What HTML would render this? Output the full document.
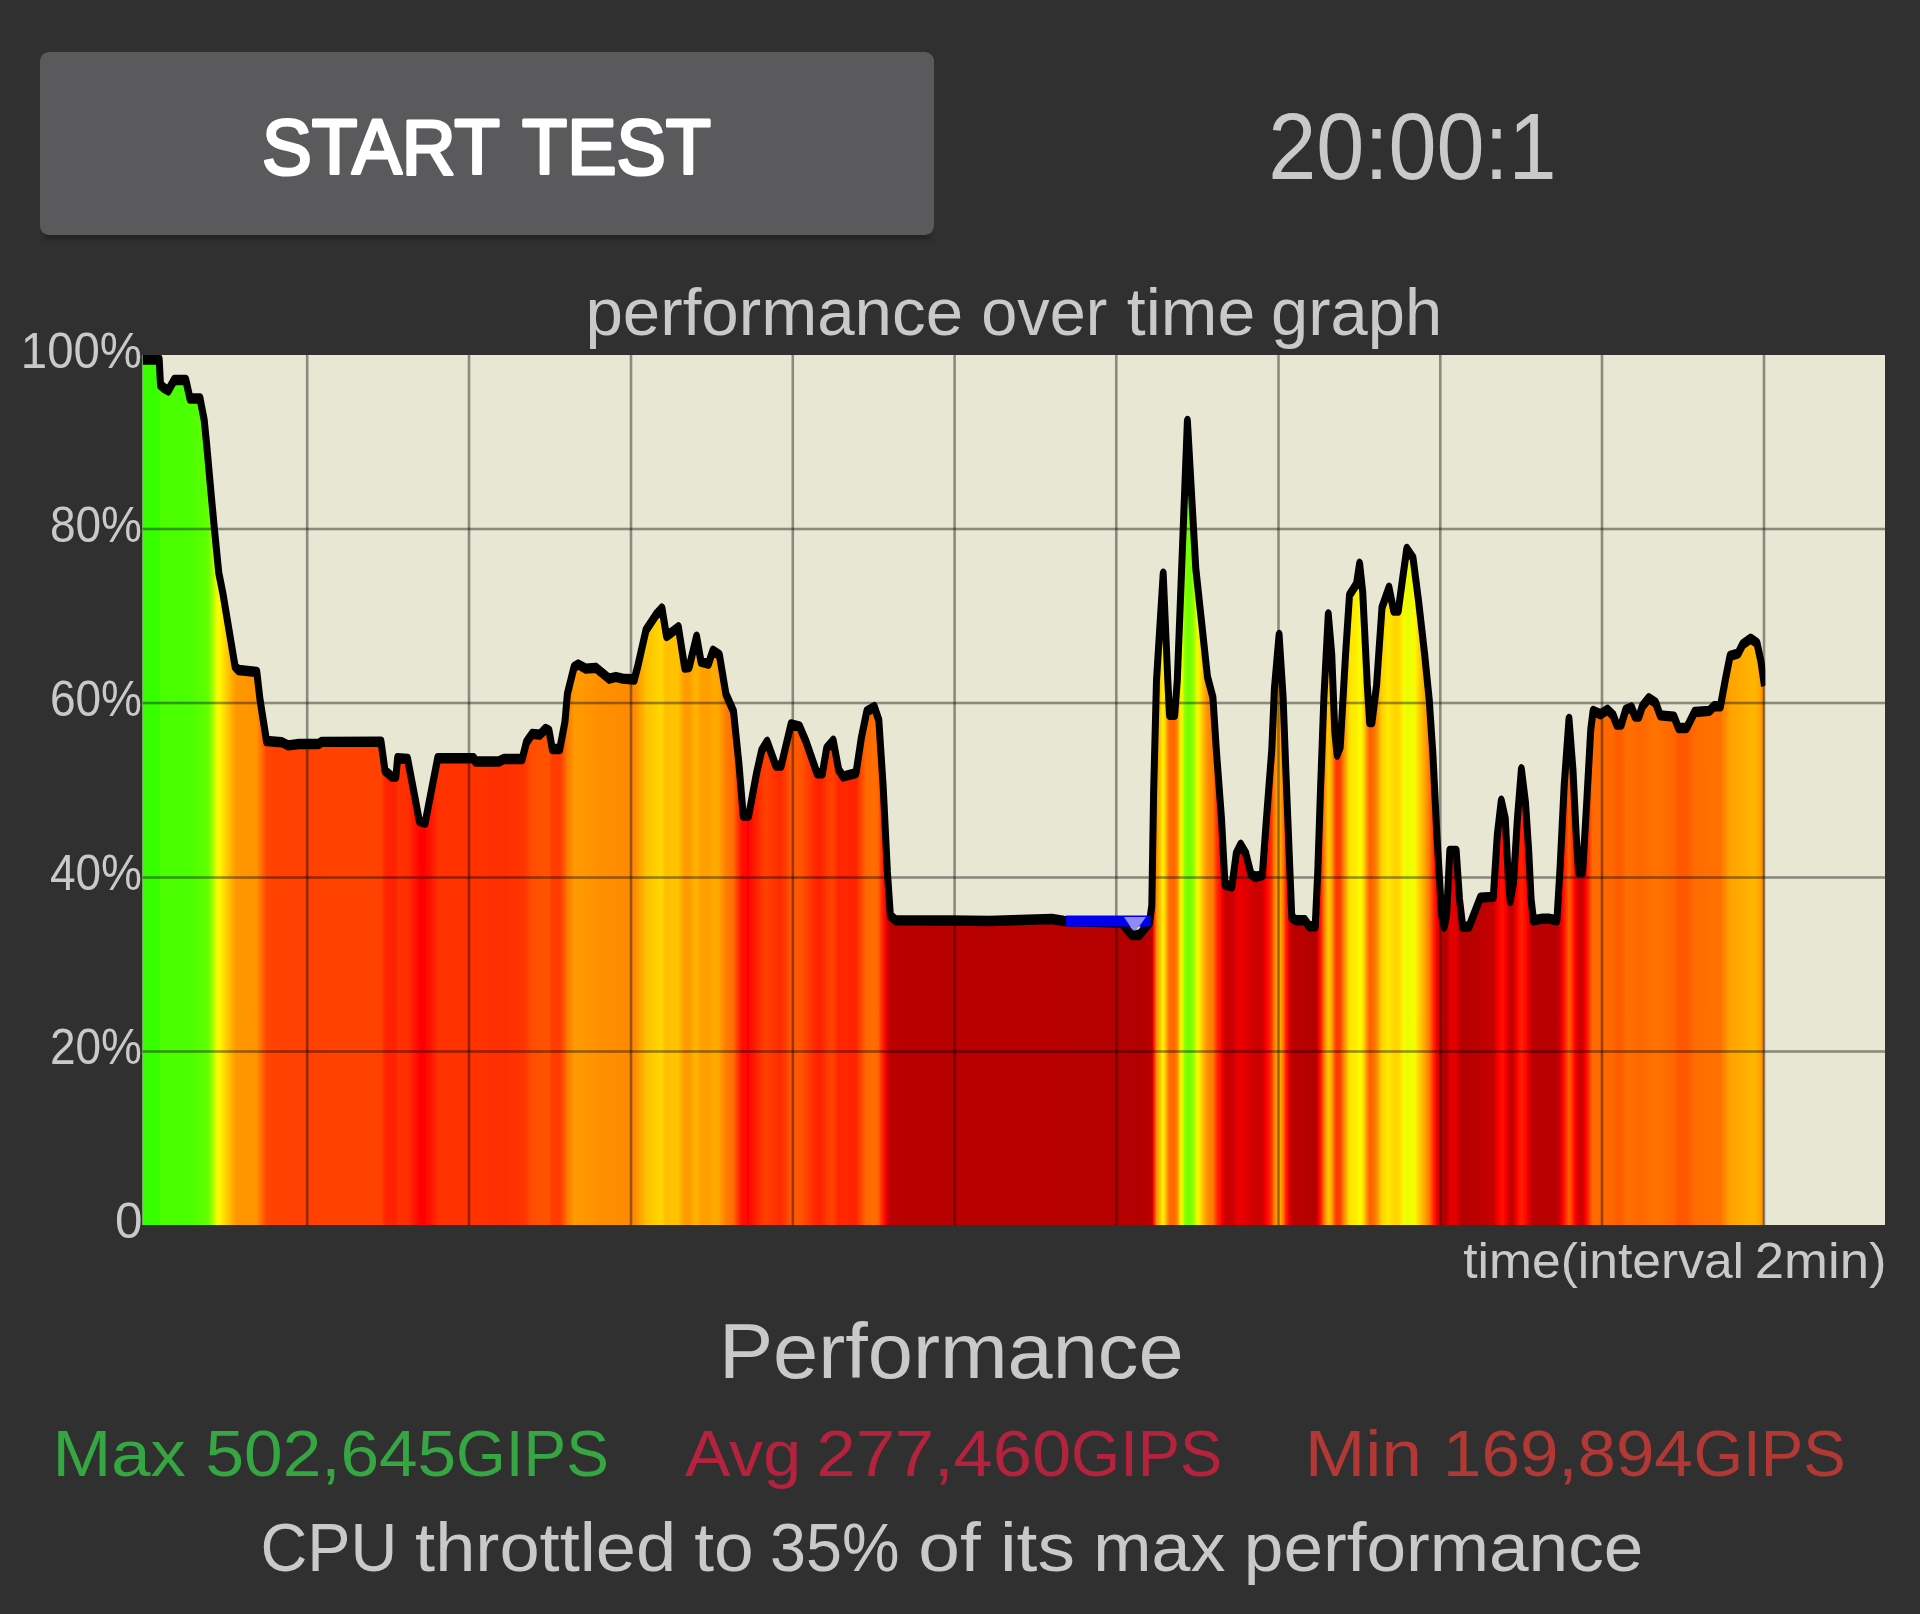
<!DOCTYPE html>
<html lang="en">
<head>
<meta charset="utf-8">
<title>CPU Throttling Test</title>
<style>
html,body{margin:0;padding:0;background:#303030;}
body{width:1920px;height:1614px;overflow:hidden;font-family:"Liberation Sans",sans-serif;}
svg{display:block;}
text{font-family:"Liberation Sans",sans-serif;}
</style>
</head>
<body>
<svg width="1920" height="1614" viewBox="0 0 1920 1614">
<defs>
<linearGradient id="g" gradientUnits="userSpaceOnUse" x1="142.5" y1="0" x2="1764" y2="0"><stop offset="0.0000" stop-color="#37ff00"/><stop offset="0.0102" stop-color="#37ff00"/><stop offset="0.0111" stop-color="#4cff00"/><stop offset="0.0268" stop-color="#49ff00"/><stop offset="0.0389" stop-color="#5cff00"/><stop offset="0.0407" stop-color="#6aff00"/><stop offset="0.0426" stop-color="#92ff00"/><stop offset="0.0453" stop-color="#dfff00"/><stop offset="0.0463" stop-color="#f4fe00"/><stop offset="0.0472" stop-color="#fff900"/><stop offset="0.0574" stop-color="#ff9900"/><stop offset="0.0703" stop-color="#ff9300"/><stop offset="0.0768" stop-color="#ff4400"/><stop offset="0.0962" stop-color="#ff4000"/><stop offset="0.1156" stop-color="#ff4300"/><stop offset="0.1351" stop-color="#ff4300"/><stop offset="0.1471" stop-color="#ff4300"/><stop offset="0.1499" stop-color="#ff2500"/><stop offset="0.1563" stop-color="#ff2100"/><stop offset="0.1573" stop-color="#ff3000"/><stop offset="0.1637" stop-color="#ff2f00"/><stop offset="0.1711" stop-color="#ff0200"/><stop offset="0.1758" stop-color="#ff0800"/><stop offset="0.1822" stop-color="#ff3100"/><stop offset="0.2017" stop-color="#ff3100"/><stop offset="0.2211" stop-color="#ff2f00"/><stop offset="0.2340" stop-color="#ff3100"/><stop offset="0.2405" stop-color="#ff4e00"/><stop offset="0.2507" stop-color="#ff5300"/><stop offset="0.2525" stop-color="#ff3b00"/><stop offset="0.2572" stop-color="#ff3a00"/><stop offset="0.2599" stop-color="#ff5800"/><stop offset="0.2618" stop-color="#ff7800"/><stop offset="0.2664" stop-color="#ff9a00"/><stop offset="0.2858" stop-color="#ff8e00"/><stop offset="0.3034" stop-color="#ff8b00"/><stop offset="0.3108" stop-color="#ffc200"/><stop offset="0.3201" stop-color="#ffd700"/><stop offset="0.3228" stop-color="#ffbe00"/><stop offset="0.3302" stop-color="#ffc400"/><stop offset="0.3340" stop-color="#ff9e00"/><stop offset="0.3367" stop-color="#ff9900"/><stop offset="0.3414" stop-color="#ffb700"/><stop offset="0.3451" stop-color="#ff9f00"/><stop offset="0.3497" stop-color="#ffa000"/><stop offset="0.3515" stop-color="#ffaa00"/><stop offset="0.3552" stop-color="#ffa700"/><stop offset="0.3599" stop-color="#ff7c00"/><stop offset="0.3645" stop-color="#ff6c00"/><stop offset="0.3673" stop-color="#ff3400"/><stop offset="0.3700" stop-color="#ff0a00"/><stop offset="0.3737" stop-color="#ff0500"/><stop offset="0.3821" stop-color="#ff3900"/><stop offset="0.3848" stop-color="#ff4100"/><stop offset="0.3932" stop-color="#ff2a00"/><stop offset="0.3969" stop-color="#ff3e00"/><stop offset="0.3996" stop-color="#ff5900"/><stop offset="0.4052" stop-color="#ff5900"/><stop offset="0.4163" stop-color="#ff2300"/><stop offset="0.4191" stop-color="#ff2300"/><stop offset="0.4218" stop-color="#ff3900"/><stop offset="0.4255" stop-color="#ff4300"/><stop offset="0.4292" stop-color="#ff2700"/><stop offset="0.4394" stop-color="#ff2300"/><stop offset="0.4403" stop-color="#ff2600"/><stop offset="0.4459" stop-color="#ff6600"/><stop offset="0.4514" stop-color="#ff7000"/><stop offset="0.4533" stop-color="#ff6800"/><stop offset="0.4542" stop-color="#ff5e00"/><stop offset="0.4551" stop-color="#ff3d00"/><stop offset="0.4579" stop-color="#ff0100"/><stop offset="0.4598" stop-color="#ca0000"/><stop offset="0.4616" stop-color="#ba0000"/><stop offset="0.4810" stop-color="#b80000"/><stop offset="0.5005" stop-color="#b80000"/><stop offset="0.5199" stop-color="#b80000"/><stop offset="0.5393" stop-color="#b80000"/><stop offset="0.5587" stop-color="#b90000"/><stop offset="0.5782" stop-color="#b70000"/><stop offset="0.5976" stop-color="#b70000"/><stop offset="0.6170" stop-color="#b20000"/><stop offset="0.6216" stop-color="#ba0000"/><stop offset="0.6226" stop-color="#c50000"/><stop offset="0.6235" stop-color="#ff0f00"/><stop offset="0.6244" stop-color="#ff4800"/><stop offset="0.6253" stop-color="#ff8a00"/><stop offset="0.6290" stop-color="#ffee00"/><stop offset="0.6300" stop-color="#ffe700"/><stop offset="0.6327" stop-color="#ff7c00"/><stop offset="0.6337" stop-color="#ff6900"/><stop offset="0.6364" stop-color="#ff6900"/><stop offset="0.6374" stop-color="#ff7900"/><stop offset="0.6383" stop-color="#ff9000"/><stop offset="0.6398" stop-color="#ffe100"/><stop offset="0.6411" stop-color="#ebff00"/><stop offset="0.6426" stop-color="#96ff00"/><stop offset="0.6442" stop-color="#73ff00"/><stop offset="0.6466" stop-color="#78ff00"/><stop offset="0.6485" stop-color="#a5ff00"/><stop offset="0.6503" stop-color="#ebff00"/><stop offset="0.6519" stop-color="#ffeb00"/><stop offset="0.6540" stop-color="#ffbe00"/><stop offset="0.6568" stop-color="#ff8d00"/><stop offset="0.6596" stop-color="#ff7c00"/><stop offset="0.6605" stop-color="#ff7100"/><stop offset="0.6623" stop-color="#ff3700"/><stop offset="0.6642" stop-color="#ff1300"/><stop offset="0.6651" stop-color="#ff0700"/><stop offset="0.6660" stop-color="#f20000"/><stop offset="0.6670" stop-color="#d70000"/><stop offset="0.6679" stop-color="#c80000"/><stop offset="0.6725" stop-color="#cb0000"/><stop offset="0.6744" stop-color="#e10000"/><stop offset="0.6772" stop-color="#eb0000"/><stop offset="0.6864" stop-color="#cc0000"/><stop offset="0.6901" stop-color="#ce0000"/><stop offset="0.6910" stop-color="#d70000"/><stop offset="0.6929" stop-color="#ff0000"/><stop offset="0.6947" stop-color="#ff1800"/><stop offset="0.6966" stop-color="#ff3f00"/><stop offset="0.6975" stop-color="#ff6e00"/><stop offset="0.6994" stop-color="#ff9c00"/><stop offset="0.7003" stop-color="#ffae00"/><stop offset="0.7012" stop-color="#ffb500"/><stop offset="0.7031" stop-color="#ff8200"/><stop offset="0.7040" stop-color="#ff6000"/><stop offset="0.7049" stop-color="#ff2e00"/><stop offset="0.7058" stop-color="#ff0f00"/><stop offset="0.7068" stop-color="#f40000"/><stop offset="0.7077" stop-color="#d00000"/><stop offset="0.7086" stop-color="#bd0000"/><stop offset="0.7225" stop-color="#b40000"/><stop offset="0.7234" stop-color="#b80000"/><stop offset="0.7243" stop-color="#c70000"/><stop offset="0.7253" stop-color="#e70000"/><stop offset="0.7262" stop-color="#ff0c00"/><stop offset="0.7271" stop-color="#ff2d00"/><stop offset="0.7280" stop-color="#ff6000"/><stop offset="0.7308" stop-color="#ffc100"/><stop offset="0.7317" stop-color="#ffc900"/><stop offset="0.7336" stop-color="#ff9f00"/><stop offset="0.7354" stop-color="#ff4f00"/><stop offset="0.7364" stop-color="#ff3a00"/><stop offset="0.7382" stop-color="#ff3a00"/><stop offset="0.7391" stop-color="#ff4f00"/><stop offset="0.7401" stop-color="#ff7000"/><stop offset="0.7438" stop-color="#ffd600"/><stop offset="0.7447" stop-color="#ffe500"/><stop offset="0.7484" stop-color="#ffee00"/><stop offset="0.7502" stop-color="#fbfb00"/><stop offset="0.7512" stop-color="#fefa00"/><stop offset="0.7521" stop-color="#ffed00"/><stop offset="0.7530" stop-color="#ffd800"/><stop offset="0.7558" stop-color="#ff7a00"/><stop offset="0.7567" stop-color="#ff6200"/><stop offset="0.7576" stop-color="#ff5f00"/><stop offset="0.7604" stop-color="#ff7c00"/><stop offset="0.7613" stop-color="#ff8b00"/><stop offset="0.7641" stop-color="#ffd100"/><stop offset="0.7687" stop-color="#ffeb00"/><stop offset="0.7715" stop-color="#ffd600"/><stop offset="0.7743" stop-color="#ffd500"/><stop offset="0.7780" stop-color="#fcfb00"/><stop offset="0.7798" stop-color="#e6ff00"/><stop offset="0.7835" stop-color="#f2fe00"/><stop offset="0.7845" stop-color="#fcfb00"/><stop offset="0.7909" stop-color="#ffa300"/><stop offset="0.7937" stop-color="#ff7400"/><stop offset="0.7965" stop-color="#ff2000"/><stop offset="0.7974" stop-color="#ff0a00"/><stop offset="0.7983" stop-color="#f30000"/><stop offset="0.8002" stop-color="#c70000"/><stop offset="0.8020" stop-color="#b70000"/><stop offset="0.8039" stop-color="#b90000"/><stop offset="0.8048" stop-color="#c30000"/><stop offset="0.8067" stop-color="#e50000"/><stop offset="0.8104" stop-color="#e10000"/><stop offset="0.8113" stop-color="#cc0000"/><stop offset="0.8141" stop-color="#b50000"/><stop offset="0.8326" stop-color="#c30000"/><stop offset="0.8335" stop-color="#c80000"/><stop offset="0.8353" stop-color="#f10000"/><stop offset="0.8363" stop-color="#ff0000"/><stop offset="0.8381" stop-color="#ff0d00"/><stop offset="0.8400" stop-color="#ff0600"/><stop offset="0.8409" stop-color="#f80000"/><stop offset="0.8418" stop-color="#db0000"/><stop offset="0.8427" stop-color="#c70000"/><stop offset="0.8437" stop-color="#c20000"/><stop offset="0.8455" stop-color="#ca0000"/><stop offset="0.8474" stop-color="#f70000"/><stop offset="0.8483" stop-color="#ff0800"/><stop offset="0.8501" stop-color="#ff2200"/><stop offset="0.8511" stop-color="#ff1f00"/><stop offset="0.8538" stop-color="#fe0000"/><stop offset="0.8557" stop-color="#cc0000"/><stop offset="0.8575" stop-color="#ba0000"/><stop offset="0.8723" stop-color="#b90000"/><stop offset="0.8742" stop-color="#d40000"/><stop offset="0.8751" stop-color="#f10000"/><stop offset="0.8760" stop-color="#ff0900"/><stop offset="0.8788" stop-color="#ff4600"/><stop offset="0.8797" stop-color="#ff6400"/><stop offset="0.8834" stop-color="#ff0800"/><stop offset="0.8844" stop-color="#f10000"/><stop offset="0.8853" stop-color="#da0000"/><stop offset="0.8862" stop-color="#d10000"/><stop offset="0.8881" stop-color="#d10000"/><stop offset="0.8899" stop-color="#ff0100"/><stop offset="0.8908" stop-color="#ff1000"/><stop offset="0.8936" stop-color="#ff5d00"/><stop offset="0.8945" stop-color="#ff6c00"/><stop offset="0.9075" stop-color="#ff6600"/><stop offset="0.9093" stop-color="#ff5c00"/><stop offset="0.9121" stop-color="#ff5d00"/><stop offset="0.9149" stop-color="#ff6e00"/><stop offset="0.9186" stop-color="#ff6f00"/><stop offset="0.9223" stop-color="#ff6700"/><stop offset="0.9334" stop-color="#ff7300"/><stop offset="0.9445" stop-color="#ff6700"/><stop offset="0.9473" stop-color="#ff5700"/><stop offset="0.9528" stop-color="#ff5900"/><stop offset="0.9574" stop-color="#ff6c00"/><stop offset="0.9732" stop-color="#ff7100"/><stop offset="0.9787" stop-color="#ffa200"/><stop offset="0.9935" stop-color="#ffb600"/><stop offset="0.9963" stop-color="#ffae00"/><stop offset="1.0000" stop-color="#ff8700"/></linearGradient>
<filter id="soft" x="0" y="0" width="1920" height="1614" filterUnits="userSpaceOnUse"><feGaussianBlur stdDeviation="0.75"/></filter>
<filter id="sh" x="0" y="200" width="1000" height="80" filterUnits="userSpaceOnUse"><feGaussianBlur stdDeviation="2.5"/></filter>
<clipPath id="lineclip"><rect x="142.5" y="355" width="1622.8" height="870"/></clipPath>
<clipPath id="plot"><rect x="142.5" y="355" width="1742.5" height="870"/></clipPath>
</defs>
<rect x="0" y="0" width="1920" height="1614" fill="#303030"/>
<g filter="url(#soft)">
<rect x="44" y="228" width="886" height="11" fill="#242424" filter="url(#sh)"/>
<rect x="40" y="52" width="894" height="183" rx="9" fill="#5a5a5c"/>
<g font-size="77" fill="#ffffff" stroke="#ffffff" stroke-width="3" stroke-linejoin="round">
<text x="262" y="173.5" textLength="238" lengthAdjust="spacingAndGlyphs">START</text>
<text x="522" y="173.5" textLength="189" lengthAdjust="spacingAndGlyphs">TEST</text>
</g>
<text x="1268.3" y="178.5" font-size="95" fill="#c9c9c9" textLength="288.3" lengthAdjust="spacingAndGlyphs">20:00:1</text>
<rect x="142.5" y="355" width="1742.5" height="870" fill="#e8e7d4"/>
<g clip-path="url(#plot)">
<polygon points="142.5,1225.0 142.5,359.5 159.2,359.5 160.5,385.0 164.0,388.0 168.3,390.5 174.2,380.0 185.8,380.0 190.0,398.5 200.0,398.5 204.2,420.0 206.7,445.0 211.2,495.0 214.5,530.0 218.8,573.0 223.0,594.0 229.0,630.0 235.1,666.5 238.4,670.0 256.8,672.0 260.0,699.5 266.5,741.0 281.7,742.2 288.2,745.4 299.0,744.0 318.6,744.0 321.8,741.8 381.0,741.6 385.0,770.7 391.7,776.6 395.9,776.6 397.6,758.2 407.6,759.0 413.5,790.0 419.3,820.9 425.2,822.6 431.5,790.0 437.7,758.2 473.7,758.2 475.4,761.5 498.8,761.5 503.8,759.0 522.2,759.0 526.4,742.3 532.2,733.9 539.8,734.7 545.6,728.9 549.0,730.6 552.3,749.0 559.8,749.0 564.9,722.2 567.4,693.8 574.1,667.0 578.2,664.5 585.8,668.7 595.8,667.8 609.2,678.7 615.9,677.0 622.6,678.7 634.3,679.5 637.6,667.0 646.0,630.2 656.0,615.0 662.0,608.5 666.5,636.0 671.5,632.5 678.4,627.3 684.7,667.5 689.2,667.0 696.6,636.6 701.0,661.6 708.5,663.7 712.9,650.7 719.4,655.0 725.9,694.0 733.5,711.4 738.9,763.5 743.2,815.5 748.7,815.5 756.3,774.3 761.7,750.5 767.1,741.8 775.8,765.6 781.2,765.6 791.0,724.4 799.6,726.6 806.1,741.8 817.0,773.2 822.4,773.2 826.7,748.3 833.2,740.7 838.7,770.0 843.0,776.5 856.0,773.2 861.4,737.5 866.8,711.4 874.4,707.1 878.8,720.1 883.1,785.2 887.4,871.9 890.4,916.0 895.6,920.2 950.0,920.5 989.4,921.0 1020.0,920.0 1051.9,919.0 1064.0,921.0 1122.2,922.5 1123.8,925.6 1131.6,935.0 1139.4,935.0 1149.5,922.8 1151.8,905.5 1153.6,792.7 1156.5,680.0 1163.2,573.7 1167.8,680.0 1169.5,714.7 1174.7,714.7 1177.3,680.0 1187.4,421.0 1195.8,568.6 1207.5,677.0 1212.9,697.3 1216.3,749.4 1221.5,818.8 1225.0,884.7 1231.9,886.4 1236.3,853.5 1240.6,844.8 1245.8,853.5 1251.0,874.3 1255.3,876.9 1262.3,875.1 1265.8,827.4 1271.8,749.4 1274.4,688.7 1279.1,635.0 1283.1,697.3 1285.7,766.7 1289.2,853.5 1291.8,917.6 1296.1,920.2 1304.8,920.2 1309.1,926.3 1315.2,926.3 1317.8,870.8 1320.4,792.7 1323.9,697.3 1328.3,614.5 1331.7,653.9 1334.8,731.4 1337.1,754.6 1340.2,746.9 1345.6,653.9 1349.5,595.0 1356.5,584.2 1359.6,563.7 1362.7,592.0 1367.3,684.9 1369.6,722.0 1372.0,722.0 1376.6,684.9 1382.0,607.5 1389.0,587.7 1393.6,610.5 1398.3,610.5 1402.9,576.5 1406.8,548.9 1413.0,557.9 1418.4,599.7 1424.6,653.9 1429.3,700.4 1432.9,754.4 1436.9,834.9 1441.7,915.5 1444.2,926.7 1446.6,915.5 1449.8,851.0 1456.2,851.0 1459.5,899.3 1462.7,926.7 1469.1,926.7 1480.4,897.7 1493.3,896.9 1497.3,834.9 1501.3,800.7 1505.3,818.8 1508.6,883.2 1510.2,901.0 1513.4,883.2 1517.4,818.8 1521.4,769.3 1525.5,802.7 1528.7,851.0 1531.1,899.3 1533.5,920.3 1542.4,918.7 1548.8,918.7 1556.9,920.3 1560.1,867.1 1564.1,786.6 1569.0,719.0 1573.0,770.5 1576.2,834.9 1578.6,872.0 1582.6,872.0 1586.7,802.7 1590.7,730.3 1593.1,710.9 1600.6,714.3 1607.5,709.7 1613.2,715.4 1616.7,724.6 1621.3,724.6 1625.8,709.7 1631.6,707.4 1635.0,716.6 1639.0,716.6 1642.4,706.3 1648.8,698.2 1655.6,702.8 1660.2,715.4 1674.0,716.6 1678.5,728.0 1686.6,728.0 1694.6,712.0 1709.5,710.8 1714.1,706.3 1720.4,706.3 1725.5,678.8 1730.1,655.8 1738.1,653.5 1742.7,644.4 1750.7,638.6 1757.0,643.2 1761.0,661.6 1764.5,686.0 1764.0,1225.0" fill="url(#g)"/>
<g fill="#000000" fill-opacity="0.4"><rect x="305.9" y="355" width="2.6" height="870"/><rect x="467.7" y="355" width="2.6" height="870"/><rect x="629.7" y="355" width="2.6" height="870"/><rect x="791.5" y="355" width="2.6" height="870"/><rect x="953.3" y="355" width="2.6" height="870"/><rect x="1115.0" y="355" width="2.6" height="870"/><rect x="1277.2" y="355" width="2.6" height="870"/><rect x="1439.0" y="355" width="2.6" height="870"/><rect x="1600.7" y="355" width="2.6" height="870"/><rect x="1762.7" y="355" width="2.6" height="870"/><rect x="142.5" y="527.7" width="1742.5" height="2.6"/><rect x="142.5" y="701.7" width="1742.5" height="2.6"/><rect x="142.5" y="876.2" width="1742.5" height="2.6"/><rect x="142.5" y="1050.2" width="1742.5" height="2.6"/></g>
<g clip-path="url(#lineclip)"><g transform="scale(1,1.48)"><polyline points="142.5,242.91 159.2,242.91 160.5,260.14 164.0,262.16 168.3,263.85 174.2,256.76 185.8,256.76 190.0,269.26 200.0,269.26 204.2,283.78 206.7,300.68 211.2,334.46 214.5,358.11 218.8,387.16 223.0,401.35 229.0,425.68 235.1,450.34 238.4,452.70 256.8,454.05 260.0,472.64 266.5,500.68 281.7,501.49 288.2,503.65 299.0,502.70 318.6,502.70 321.8,501.22 381.0,501.08 385.0,520.74 391.7,524.73 395.9,524.73 397.6,512.30 407.6,512.84 413.5,533.78 419.3,554.66 425.2,555.81 431.5,533.78 437.7,512.30 473.7,512.30 475.4,514.53 498.8,514.53 503.8,512.84 522.2,512.84 526.4,501.55 532.2,495.88 539.8,496.42 545.6,492.50 549.0,493.65 552.3,506.08 559.8,506.08 564.9,487.97 567.4,468.78 574.1,450.68 578.2,448.99 585.8,451.82 595.8,451.22 609.2,458.58 615.9,457.43 622.6,458.58 634.3,459.12 637.6,450.68 646.0,425.81 656.0,415.54 662.0,411.15 666.5,429.73 671.5,427.36 678.4,423.85 684.7,451.01 689.2,450.68 696.6,430.14 701.0,447.03 708.5,448.45 712.9,439.66 719.4,442.57 725.9,468.92 733.5,480.68 738.9,515.88 743.2,551.01 748.7,551.01 756.3,523.18 761.7,507.09 767.1,501.22 775.8,517.30 781.2,517.30 791.0,489.46 799.6,490.95 806.1,501.22 817.0,522.43 822.4,522.43 826.7,505.61 833.2,500.47 838.7,520.27 843.0,524.66 856.0,522.43 861.4,498.31 866.8,480.68 874.4,477.77 878.8,486.55 883.1,530.54 887.4,589.12 890.4,618.92 895.6,621.76 950.0,621.96 989.4,622.30 1020.0,621.62 1051.9,620.95 1064.0,622.30 1122.2,623.31 1123.8,625.41 1131.6,631.76 1139.4,631.76 1149.5,623.51 1151.8,611.82 1153.6,535.61 1156.5,459.46 1163.2,387.64 1167.8,459.46 1169.5,482.91 1174.7,482.91 1177.3,459.46 1187.4,284.46 1195.8,384.19 1207.5,457.43 1212.9,471.15 1216.3,506.35 1221.5,553.24 1225.0,597.77 1231.9,598.92 1236.3,576.69 1240.6,570.81 1245.8,576.69 1251.0,590.74 1255.3,592.50 1262.3,591.28 1265.8,559.05 1271.8,506.35 1274.4,465.34 1279.1,429.05 1283.1,471.15 1285.7,518.04 1289.2,576.69 1291.8,620.00 1296.1,621.76 1304.8,621.76 1309.1,625.88 1315.2,625.88 1317.8,588.38 1320.4,535.61 1323.9,471.15 1328.3,415.20 1331.7,441.82 1334.8,494.19 1337.1,509.86 1340.2,504.66 1345.6,441.82 1349.5,402.03 1356.5,394.73 1359.6,380.88 1362.7,400.00 1367.3,462.77 1369.6,487.84 1372.0,487.84 1376.6,462.77 1382.0,410.47 1389.0,397.09 1393.6,412.50 1398.3,412.50 1402.9,389.53 1406.8,370.88 1413.0,376.96 1418.4,405.20 1424.6,441.82 1429.3,473.24 1432.9,509.73 1436.9,564.12 1441.7,618.58 1444.2,626.15 1446.6,618.58 1449.8,575.00 1456.2,575.00 1459.5,607.64 1462.7,626.15 1469.1,626.15 1480.4,606.55 1493.3,606.01 1497.3,564.12 1501.3,541.01 1505.3,553.24 1508.6,596.76 1510.2,608.78 1513.4,596.76 1517.4,553.24 1521.4,519.80 1525.5,542.36 1528.7,575.00 1531.1,607.64 1533.5,621.82 1542.4,620.74 1548.8,620.74 1556.9,621.82 1560.1,585.88 1564.1,531.49 1569.0,485.81 1573.0,520.61 1576.2,564.12 1578.6,589.19 1582.6,589.19 1586.7,542.36 1590.7,493.45 1593.1,480.34 1600.6,482.64 1607.5,479.53 1613.2,483.38 1616.7,489.59 1621.3,489.59 1625.8,479.53 1631.6,477.97 1635.0,484.19 1639.0,484.19 1642.4,477.23 1648.8,471.76 1655.6,474.86 1660.2,483.38 1674.0,484.19 1678.5,491.89 1686.6,491.89 1694.6,481.08 1709.5,480.27 1714.1,477.23 1720.4,477.23 1725.5,458.65 1730.1,443.11 1738.1,441.55 1742.7,435.41 1750.7,431.49 1757.0,434.59 1761.0,447.03 1764.5,463.51" fill="none" stroke="#000000" stroke-width="7" stroke-linejoin="round" stroke-linecap="butt"/></g></g>
<line x1="1066" y1="921" x2="1150.5" y2="921" stroke="#0000ee" stroke-width="11"/>
<polygon points="1124,917 1146,917 1140.5,924.5 1135.5,930.5 1133.5,930.5 1129,924.5" fill="#8e8cfa"/>
</g>
<g font-size="49.5" fill="#c9c9c9" text-anchor="end">
<text x="142" y="368" textLength="121.2" lengthAdjust="spacingAndGlyphs">100%</text>
<text x="142" y="541.5" textLength="92.1" lengthAdjust="spacingAndGlyphs">80%</text>
<text x="142" y="715.5" textLength="92.1" lengthAdjust="spacingAndGlyphs">60%</text>
<text x="142" y="889.5" textLength="92.1" lengthAdjust="spacingAndGlyphs">40%</text>
<text x="142" y="1063.5" textLength="92.1" lengthAdjust="spacingAndGlyphs">20%</text>
<text x="142.5" y="1237.5">0</text>
</g>
<text x="585.4" y="334.5" font-size="67" fill="#c9c9c9" textLength="377.7" lengthAdjust="spacingAndGlyphs">performance</text>
<text x="981.3" y="334.5" font-size="67" fill="#c9c9c9" textLength="126.0" lengthAdjust="spacingAndGlyphs">over</text>
<text x="1126.8" y="334.5" font-size="67" fill="#c9c9c9" textLength="128.6" lengthAdjust="spacingAndGlyphs">time</text>
<text x="1271.1" y="334.5" font-size="67" fill="#c9c9c9" textLength="171.1" lengthAdjust="spacingAndGlyphs">graph</text>
<text x="1463.2" y="1278.0" font-size="50" fill="#c9c9c9" textLength="280.9" lengthAdjust="spacingAndGlyphs">time(interval</text>
<text x="1754.8" y="1278.0" font-size="50" fill="#c9c9c9" textLength="131.7" lengthAdjust="spacingAndGlyphs">2min)</text>
<text x="52.5" y="1475.5" font-size="65" fill="#35a642" textLength="133.3" lengthAdjust="spacingAndGlyphs">Max</text>
<text x="205.5" y="1475.5" font-size="65" fill="#35a642" textLength="250.7" lengthAdjust="spacingAndGlyphs">502,645</text>
<text x="456.1" y="1475.5" font-size="65" fill="#35a642" textLength="152.8" lengthAdjust="spacingAndGlyphs">GIPS</text>
<text x="684.9" y="1475.5" font-size="65" fill="#b5213d" textLength="116.2" lengthAdjust="spacingAndGlyphs">Avg</text>
<text x="816.5" y="1475.5" font-size="65" fill="#b5213d" textLength="254.6" lengthAdjust="spacingAndGlyphs">277,460</text>
<text x="1071.1" y="1475.5" font-size="65" fill="#b5213d" textLength="151.0" lengthAdjust="spacingAndGlyphs">GIPS</text>
<text x="1304.7" y="1475.5" font-size="65" fill="#b23834" textLength="117.3" lengthAdjust="spacingAndGlyphs">Min</text>
<text x="1443.1" y="1475.5" font-size="65" fill="#b23834" textLength="249.6" lengthAdjust="spacingAndGlyphs">169,894</text>
<text x="1693.5" y="1475.5" font-size="65" fill="#b23834" textLength="152.1" lengthAdjust="spacingAndGlyphs">GIPS</text>
<text x="260.5" y="1571.0" font-size="68" fill="#c9c9c9" textLength="136.9" lengthAdjust="spacingAndGlyphs">CPU</text>
<text x="415.1" y="1571.0" font-size="68" fill="#c9c9c9" textLength="261.0" lengthAdjust="spacingAndGlyphs">throttled</text>
<text x="694.2" y="1571.0" font-size="68" fill="#c9c9c9" textLength="59.5" lengthAdjust="spacingAndGlyphs">to</text>
<text x="770.0" y="1571.0" font-size="68" fill="#c9c9c9" textLength="129.5" lengthAdjust="spacingAndGlyphs">35%</text>
<text x="918.3" y="1571.0" font-size="68" fill="#c9c9c9" textLength="62.5" lengthAdjust="spacingAndGlyphs">of</text>
<text x="999.9" y="1571.0" font-size="68" fill="#c9c9c9" textLength="75.0" lengthAdjust="spacingAndGlyphs">its</text>
<text x="1093.3" y="1571.0" font-size="68" fill="#c9c9c9" textLength="132.1" lengthAdjust="spacingAndGlyphs">max</text>
<text x="1243.8" y="1571.0" font-size="68" fill="#c9c9c9" textLength="399.6" lengthAdjust="spacingAndGlyphs">performance</text>
<text x="718.9" y="1378.2" font-size="78" fill="#c9c9c9" textLength="464.7" lengthAdjust="spacingAndGlyphs">Performance</text>
</g>
</svg>
</body>
</html>
